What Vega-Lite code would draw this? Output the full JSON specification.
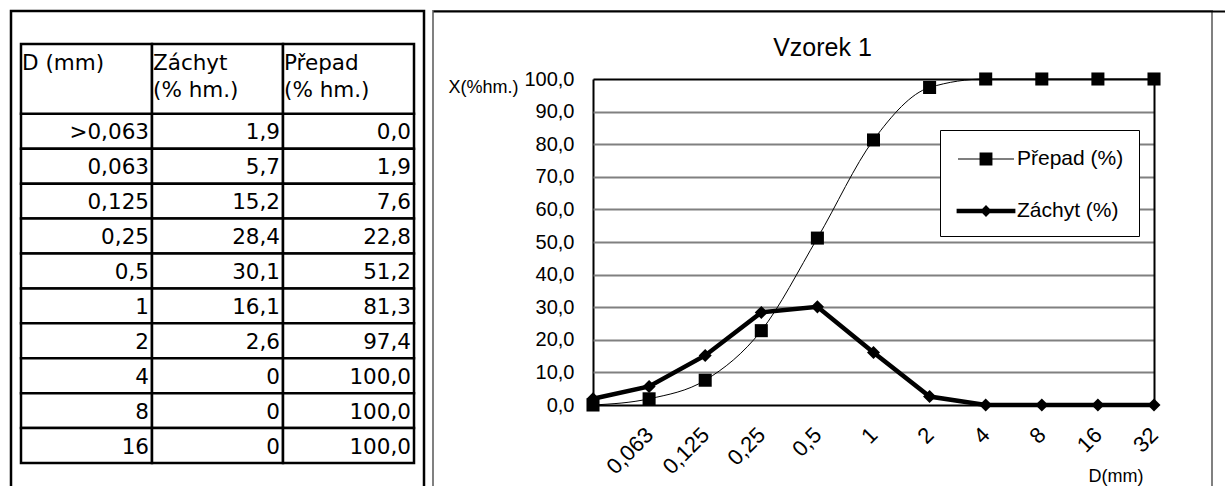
{
  "$schema": "https://vega.github.io/schema/vega-lite/v6.json",
  "padding": {"left": 9, "top": 9, "right": 0, "bottom": 0},
  "background": "white",
  "config": {"font": "Liberation Sans", "view": {"stroke": null}},
  "datasets": {
    "tab": [
      {"D": ">0,063", "Záchyt": "1,9", "Přepad": "0,0"},
      {"D": "0,063", "Záchyt": "5,7", "Přepad": "1,9"},
      {"D": "0,125", "Záchyt": "15,2", "Přepad": "7,6"},
      {"D": "0,25", "Záchyt": "28,4", "Přepad": "22,8"},
      {"D": "0,5", "Záchyt": "30,1", "Přepad": "51,2"},
      {"D": "1", "Záchyt": "16,1", "Přepad": "81,3"},
      {"D": "2", "Záchyt": "2,6", "Přepad": "97,4"},
      {"D": "4", "Záchyt": "0", "Přepad": "100,0"},
      {"D": "8", "Záchyt": "0", "Přepad": "100,0"},
      {"D": "16", "Záchyt": "0", "Přepad": "100,0"}
    ],
    "hdr": [
      {"col": "D", "line": "h1", "label": "D (mm)"},
      {"col": "Záchyt", "line": "h1", "label": "Záchyt\n(% hm.)"},
      {"col": "Přepad", "line": "h1", "label": "Přepad\n(% hm.)"}
    ],
    "sv": [
      {"D": ">0,063", "s": "Přepad (%)", "v": 0.0},
      {"D": "0,063", "s": "Přepad (%)", "v": 1.9},
      {"D": "0,125", "s": "Přepad (%)", "v": 7.6},
      {"D": "0,25", "s": "Přepad (%)", "v": 22.8},
      {"D": "0,5", "s": "Přepad (%)", "v": 51.2},
      {"D": "1", "s": "Přepad (%)", "v": 81.3},
      {"D": "2", "s": "Přepad (%)", "v": 97.4},
      {"D": "4", "s": "Přepad (%)", "v": 100},
      {"D": "8", "s": "Přepad (%)", "v": 100},
      {"D": "16", "s": "Přepad (%)", "v": 100},
      {"D": "32", "s": "Přepad (%)", "v": 100},
      {"D": ">0,063", "s": "Záchyt (%)", "v": 1.9},
      {"D": "0,063", "s": "Záchyt (%)", "v": 5.7},
      {"D": "0,125", "s": "Záchyt (%)", "v": 15.2},
      {"D": "0,25", "s": "Záchyt (%)", "v": 28.4},
      {"D": "0,5", "s": "Záchyt (%)", "v": 30.1},
      {"D": "1", "s": "Záchyt (%)", "v": 16.1},
      {"D": "2", "s": "Záchyt (%)", "v": 2.6},
      {"D": "4", "s": "Záchyt (%)", "v": 0},
      {"D": "8", "s": "Záchyt (%)", "v": 0},
      {"D": "16", "s": "Záchyt (%)", "v": 0},
      {"D": "32", "s": "Záchyt (%)", "v": 0}
    ]
  },
  "bounds": "flush",
  "spacing": 9,
  "hconcat": [
    {
      "width": 413,
      "height": 480,
      "view": {"stroke": "black", "strokeWidth": 2.5},
      "layer": [
        {
          "data": {"name": "tab"},
          "transform": [{"fold": ["D", "Záchyt", "Přepad"], "as": ["col", "txt"]}],
          "mark": {"type": "rect", "fill": "white", "stroke": "black", "strokeWidth": 2.5},
          "encoding": {
            "x": {"field": "col", "type": "nominal", "axis": null, "scale": {"type": "band", "domain": ["D", "Záchyt", "Přepad"], "paddingInner": 0, "paddingOuter": 0.0763}},
            "y": {"field": "D", "type": "nominal", "axis": null, "scale": {"type": "band", "domain": ["h1", "h2", ">0,063", "0,063", "0,125", "0,25", "0,5", "1", "2", "4", "8", "16"], "paddingInner": 0, "paddingOuter": 0.8735, "align": 0.541}}
          }
        },
        {
          "data": {"name": "hdr"},
          "mark": {"type": "rect", "fill": "white", "stroke": "black", "strokeWidth": 2.5},
          "encoding": {
            "x": {"field": "col", "type": "nominal", "axis": null},
            "y": {"field": "line", "type": "nominal", "axis": null, "bandPosition": 0},
            "y2": {"datum": "h2", "bandPosition": 1}
          }
        },
        {
          "data": {"name": "tab"},
          "transform": [{"fold": ["D", "Záchyt", "Přepad"], "as": ["col", "txt"]}],
          "mark": {"type": "text", "align": "right", "baseline": "middle", "dx": -3, "dy": 2, "font": "DejaVu Sans", "fontSize": 21.5, "color": "black"},
          "encoding": {
            "x": {"field": "col", "type": "nominal", "axis": null, "bandPosition": 1},
            "y": {"field": "D", "type": "nominal", "axis": null},
            "text": {"field": "txt"}
          }
        },
        {
          "data": {"name": "hdr"},
          "mark": {"type": "text", "align": "left", "baseline": "top", "dx": 1, "dy": 9, "lineBreak": "\n", "lineHeight": 27, "font": "DejaVu Sans", "fontSize": 21.5, "color": "black"},
          "encoding": {
            "x": {"field": "col", "type": "nominal", "axis": null, "bandPosition": 0},
            "y": {"field": "line", "type": "nominal", "axis": null, "bandPosition": 0},
            "text": {"field": "label"}
          }
        }
      ]
    },
    {
      "width": 779,
      "height": 480,
      "view": {"stroke": "#808080", "strokeWidth": 2},
      "title": {"text": "Vzorek 1", "frame": "group", "anchor": "middle", "offset": 0, "dy": 70, "baseline": "alphabetic", "fontSize": 25, "fontWeight": "normal", "color": "black"},
      "data": {"name": "sv"},
      "resolve": {"scale": {"x": "independent"}, "axis": {"x": "independent", "y": "independent"}},
      "layer": [
        {
          "transform": [{"filter": "datum.s === 'Záchyt (%)'"}],
          "mark": {"type": "line", "color": "black", "strokeWidth": 4.5},
          "encoding": {
            "x": {
              "field": "D", "type": "ordinal",
              "scale": {"type": "point", "padding": 0, "domain": [">0,063", "0,063", "0,125", "0,25", "0,5", "1", "2", "4", "8", "16", "32"], "range": [160, 721]},
              "axis": {"orient": "bottom", "offset": -86, "title": "D(mm)", "titleX": 710, "titleY": 71, "titleAlign": "right", "titleBaseline": "middle", "titleFontSize": 18, "titleFontWeight": "normal", "titleColor": "black", "labelAngle": -45, "labelAlign": "right", "labelBaseline": "middle", "labelPadding": 26, "labelFontSize": 22, "labelColor": "black", "ticks": false, "tickSize": 0, "domain": true, "domainColor": "black", "domainWidth": 2, "grid": false, "labelOverlap": false, "labelExpr": "datum.value === '>0,063' ? '' : datum.label"}
            },
            "y": {
              "field": "v", "type": "quantitative",
              "scale": {"domain": [0, 100], "nice": false, "range": [394, 68]},
              "axis": {"orient": "left", "offset": -160, "title": "X(%hm.)", "titleAngle": 0, "titleX": -75, "titleY": 76, "titleAlign": "right", "titleBaseline": "middle", "titleFontSize": 18, "titleFontWeight": "normal", "titleColor": "black", "values": [0, 10, 20, 30, 40, 50, 60, 70, 80, 90, 100], "labelExpr": "replace(format(datum.value, '.1f'), '.', ',')", "labelFontSize": 20, "labelColor": "black", "labelPadding": 19, "ticks": false, "tickSize": 0, "domain": true, "domainColor": "black", "domainWidth": 2, "grid": false}
            },
            "order": {"value": null}
          }
        },
        {
          "transform": [{"filter": "datum.s === 'Přepad (%)'"}],
          "mark": {"type": "line", "color": "black", "strokeWidth": 1, "interpolate": "monotone"},
          "encoding": {
            "x": {
              "field": "D", "type": "ordinal", "axis": null,
              "scale": {"type": "point", "padding": 0, "domain": [">0,063", "0,063", "0,125", "0,25", "0,5", "1", "2", "4", "8", "16", "32"], "range": [160, 721]}
            },
            "y": {
              "field": "v", "type": "quantitative",
              "scale": {"domain": [0, 100], "nice": false, "range": [394, 68]},
              "axis": {"orient": "right", "offset": -58, "title": null, "labels": false, "values": [10, 20, 30, 40, 50, 60, 70, 80, 90, 100], "ticks": true, "tickSize": -561, "tickColor": {"condition": {"test": "datum.value === 100", "value": "black"}, "value": "#808080"}, "tickWidth": 2, "domain": true, "domainColor": "black", "domainWidth": 2, "grid": false}
            },
            "order": {"value": null}
          }
        },
        {
          "transform": [{"filter": "datum.s === 'Přepad (%)'"}],
          "mark": {"type": "point", "shape": "square", "filled": true, "color": "black", "size": 170, "opacity": 1},
          "encoding": {
            "x": {"field": "D", "type": "ordinal", "axis": null, "scale": {"type": "point", "padding": 0, "domain": [">0,063", "0,063", "0,125", "0,25", "0,5", "1", "2", "4", "8", "16", "32"], "range": [160, 721]}},
            "y": {"field": "v", "type": "quantitative", "axis": null, "scale": {"domain": [0, 100], "nice": false, "range": [394, 68]}}
          }
        },
        {
          "transform": [{"filter": "datum.s === 'Záchyt (%)'"}],
          "mark": {"type": "point", "shape": "diamond", "filled": true, "color": "black", "size": 170, "opacity": 1},
          "encoding": {
            "x": {"field": "D", "type": "ordinal", "axis": null, "scale": {"type": "point", "padding": 0, "domain": [">0,063", "0,063", "0,125", "0,25", "0,5", "1", "2", "4", "8", "16", "32"], "range": [160, 721]}},
            "y": {"field": "v", "type": "quantitative", "axis": null, "scale": {"domain": [0, 100], "nice": false, "range": [394, 68]}}
          }
        },
        {
          "mark": {"type": "point", "filled": true, "color": "black", "size": 784, "opacity": 0},
          "encoding": {
            "x": {
              "field": "D", "type": "ordinal",
              "scale": {"type": "point", "padding": 0, "domain": [">0,063", "0,063", "0,125", "0,25", "0,5", "1", "2", "4", "8", "16", "32"], "range": [0, 800]},
              "axis": {"orient": "top", "offset": 0, "title": null, "labels": false, "ticks": false, "domain": true, "domainColor": "black", "domainWidth": 2, "grid": false}
            },
            "y": {"field": "v", "type": "quantitative", "axis": null, "scale": {"domain": [0, 100], "nice": false, "range": [394, 68]}},
            "shape": {
              "field": "s", "type": "nominal",
              "scale": {"domain": ["Přepad (%)", "Záchyt (%)"], "range": ["M-2,-0.036H2V0.036H-2ZM-0.46,-0.46H0.46V0.46H-0.46Z", "M-2.1,-0.16H2.1V0.16H-2.1ZM0,-0.42L0.42,0L0,0.42L-0.42,0Z"]},
              "legend": {
                "title": null, "orient": "none", "legendX": 929, "legendY": 119,
                "strokeColor": "black", "fillColor": "white", "padding": 15,
                "symbolSize": 784, "symbolOffset": 17, "labelOffset": 17, "rowPadding": 28,
                "symbolOpacity": 1, "symbolFillColor": "black", "symbolStrokeWidth": 0,
                "labelFontSize": 21, "labelColor": "black", "labelFont": "Liberation Sans"
              }
            }
          }
        }
      ]
    }
  ]
}
